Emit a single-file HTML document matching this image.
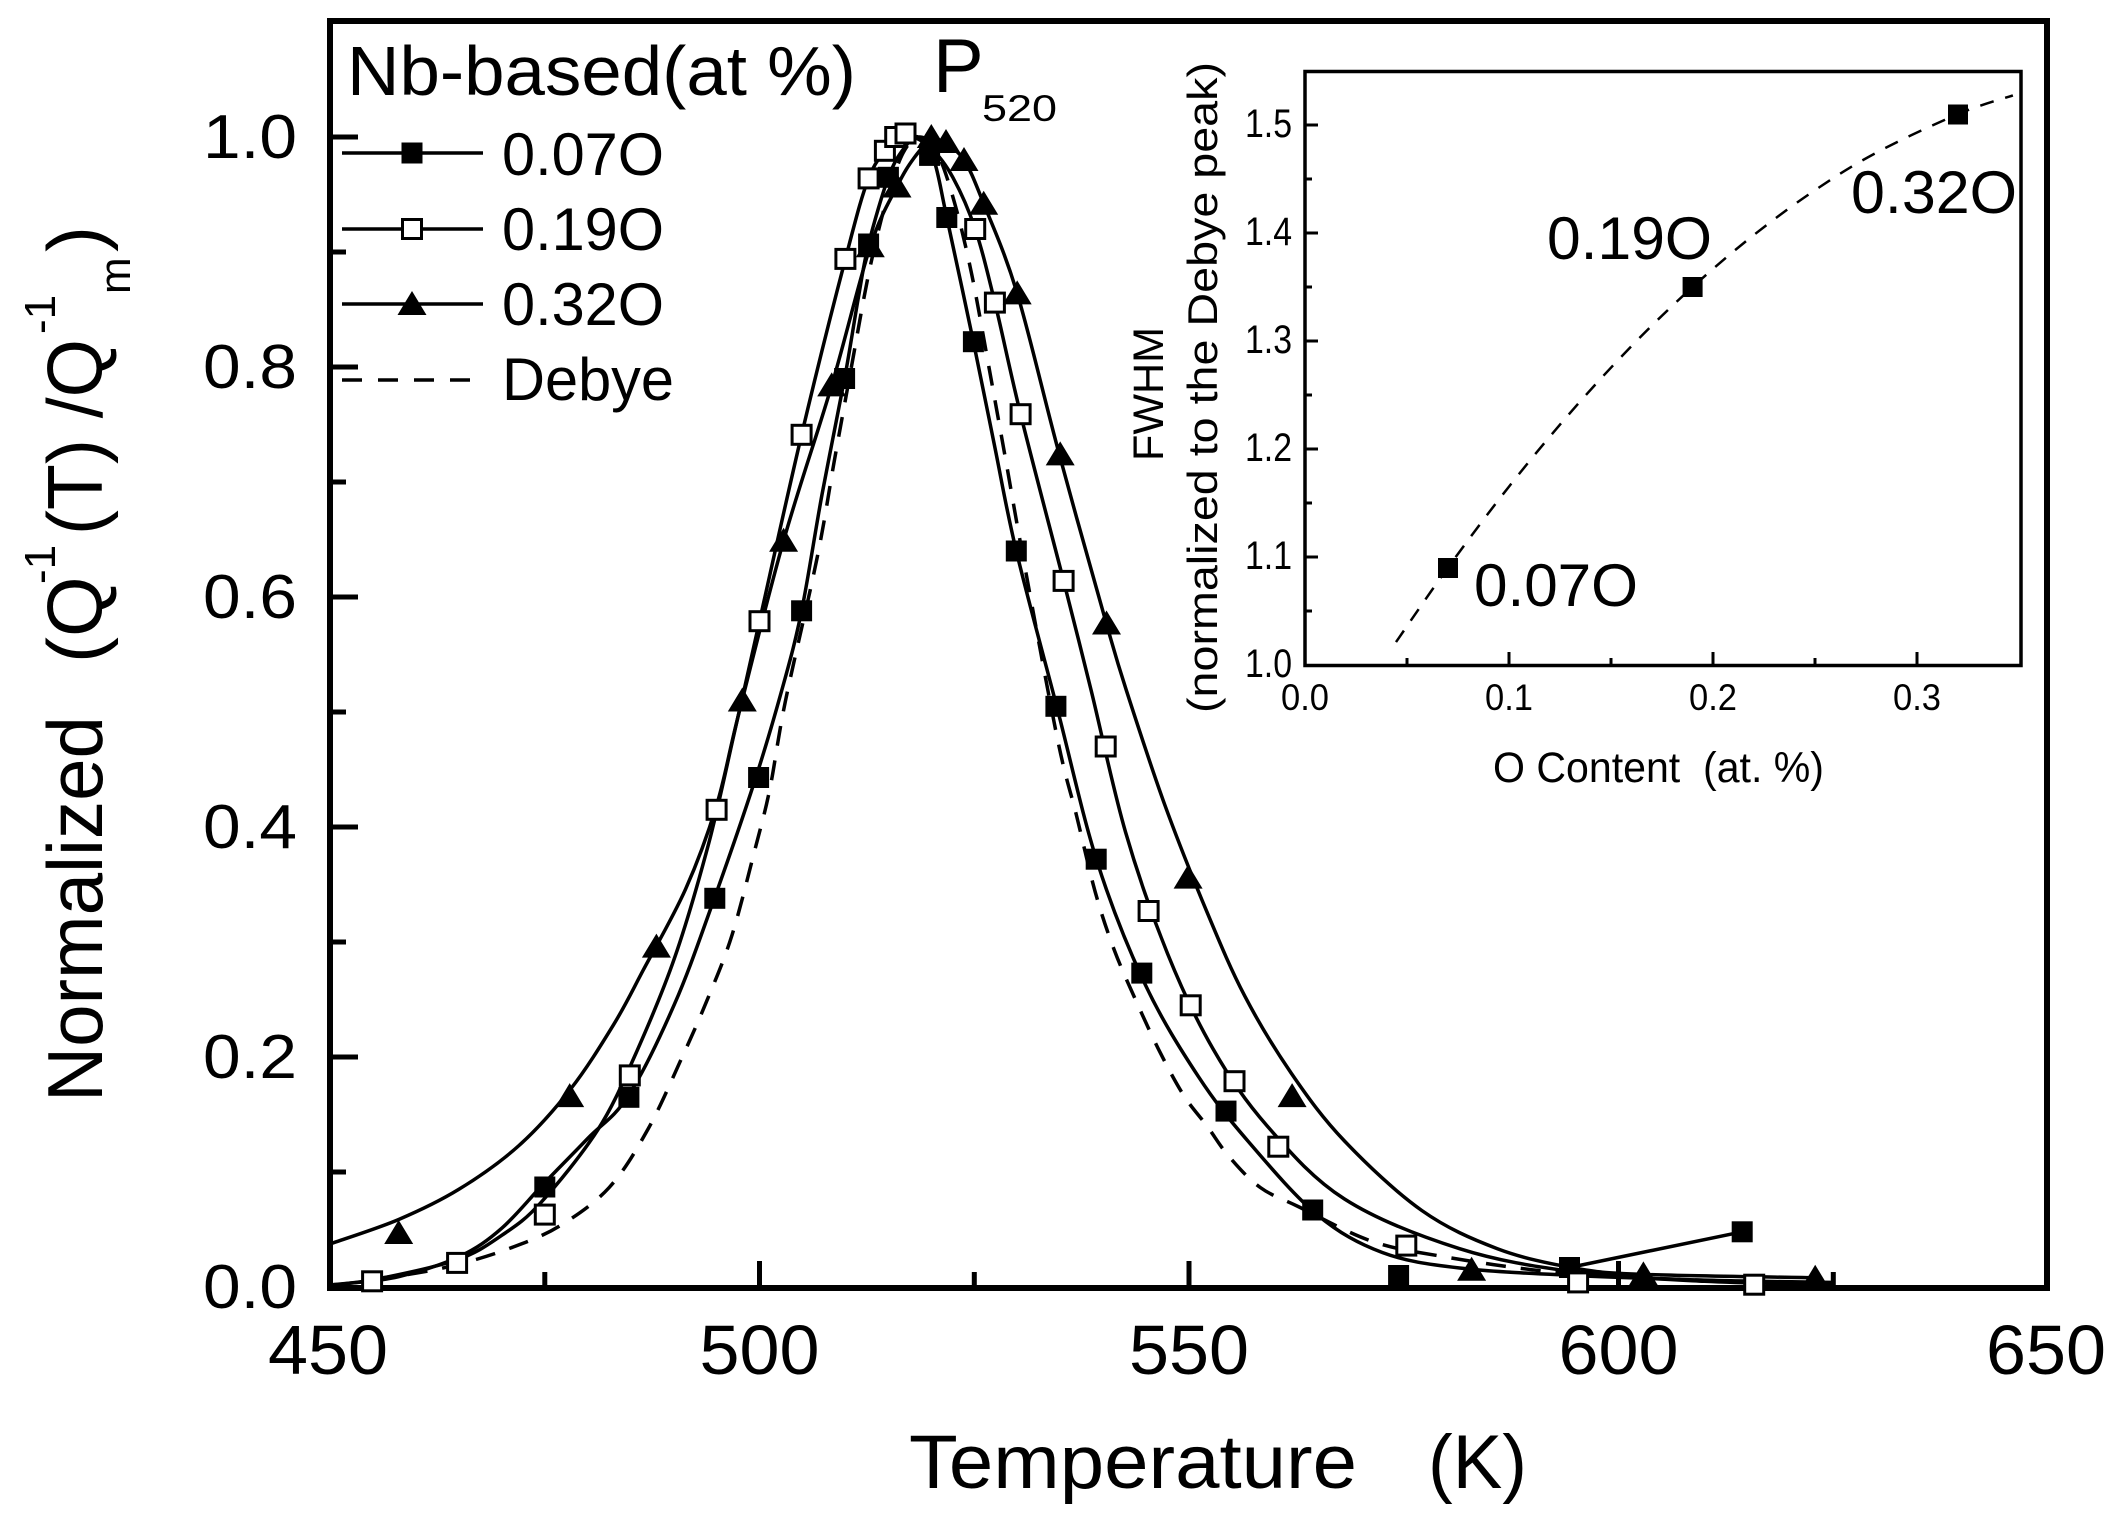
<!DOCTYPE html>
<html><head><meta charset="utf-8"><style>
html,body{margin:0;padding:0;background:#fff;}
svg{display:block;}
text{font-family:"Liberation Sans",Arial,sans-serif;fill:#000;}
</style></head><body>
<svg width="2120" height="1521" viewBox="0 0 2120 1521" xmlns="http://www.w3.org/2000/svg">
<rect width="2120" height="1521" fill="#fff"/>

<!-- ===== MAIN PLOT ===== -->
<g fill="none" stroke="#000" stroke-width="3.5" stroke-linejoin="round" stroke-linecap="round">
<!-- Debye dashed -->
<polyline class="s" stroke-dasharray="20 15" stroke-linecap="butt" points="373,1279 415.9,1273.2 459.7,1264 509.5,1248.4 559.4,1226.1 609.2,1187.5 647.8,1129.5 682.2,1057 708.8,996.1 732,935.1 754.8,850 769.8,789.1 785.3,701.7 817.1,557.9 834.2,461.5 851.4,367 868.6,274.2 885.8,202.6 903,153.1 920.1,137 937.3,153.1 954.5,202.6 971.7,274.2 988.9,367 1006,461.5 1023.2,557.9 1057.6,739.6 1076.5,815.5 1095.4,892.6 1114.3,950.1 1137.5,1004.1 1160.7,1053.6 1183.8,1095.5 1207,1126 1229.4,1157 1260.3,1187.5 1298.1,1206.5 1371.1,1241 1439.8,1256 1532.6,1269.8 1618.5,1276.7 1764.5,1282.4"/>
<!-- 0.07O -->
<polyline class="s" points="333,1285 347.2,1283.5 398.7,1276.7 459.7,1256.4 501.8,1228.2 543.9,1183.5 587.7,1138.5 628.1,1096.1 674.5,1004.1 712.3,904.1 754.3,782.2 781.8,690.2 801.6,610.8 822.2,493.5 844.6,378.5 858.3,298 868.6,244 888.4,177.3 903.8,148.5 918.4,137 933.9,160 946.8,217.5 973.4,341.7 994.9,447.5 1016.3,551 1056.7,706.3 1097.1,861.5 1145.2,984.5 1198.4,1076.6 1248.3,1141.5 1317,1214.6 1382.3,1252.5 1459.6,1268 1573.9,1275.5 1704.4,1280.1 1833.3,1282.4"/>
<polyline points="1569.5,1267.5 1742.2,1231.8"/>
<!-- 0.19O -->
<polyline class="s" points="333,1284.7 375.5,1279.4 456.3,1260 501.8,1235.3 540.5,1203 598,1129.5 635.8,1053.6 674.5,958.1 708.8,843.1 735.4,728.1 759.5,621.2 801.6,434.8 845.4,258.9 868.6,178.4 888.4,148.5 909.8,137 931.3,148.5 952.8,177.3 975.2,229 994.9,302.6 1020.6,414.2 1063.6,580.9 1091.1,690.2 1125.4,831.6 1167.5,953.5 1213.1,1049 1267.2,1126 1344.5,1199 1459.6,1248.7 1573.9,1271.7 1704.4,1281.3 1833.3,1284.7"/>
<!-- 0.32O -->
<polyline class="s" points="332,1243.3 398.7,1219.5 458.9,1189.3 519,1145.5 570.5,1089.2 613.5,1024.8 643.5,969.6 685.6,889.1 716.6,805.2 738.9,713.2 783.6,540.7 831.7,385.4 870.3,246.3 897,186.5 914,158 931.3,140 944.2,142.8 964,160 983.7,203.7 1017.2,293.4 1059.3,454.4 1105.7,621.2 1126.3,690.2 1164.9,805.2 1207,912.1 1244.8,996.1 1291.2,1073.1 1344.5,1141 1421.8,1210.5 1497.4,1248.7 1573.9,1268 1643.4,1274.4 1815.2,1277.8"/>
</g>

<!-- frame -->
<rect x="330" y="21" width="1717" height="1267" fill="none" stroke="#000" stroke-width="6"/>
<!-- ticks -->
<g stroke="#000" stroke-width="5">
<line x1="330" y1="1057" x2="358" y2="1057"/>
<line x1="330" y1="827" x2="358" y2="827"/>
<line x1="330" y1="597" x2="358" y2="597"/>
<line x1="330" y1="367" x2="358" y2="367"/>
<line x1="330" y1="137" x2="358" y2="137"/>
<line x1="330" y1="1172" x2="346" y2="1172"/>
<line x1="330" y1="942" x2="346" y2="942"/>
<line x1="330" y1="712" x2="346" y2="712"/>
<line x1="330" y1="482" x2="346" y2="482"/>
<line x1="330" y1="252" x2="346" y2="252"/>
<line x1="759.5" y1="1288" x2="759.5" y2="1261"/>
<line x1="1189" y1="1288" x2="1189" y2="1261"/>
<line x1="1618.5" y1="1288" x2="1618.5" y2="1261"/>
<line x1="544.8" y1="1288" x2="544.8" y2="1272"/>
<line x1="974.3" y1="1288" x2="974.3" y2="1272"/>
<line x1="1403.8" y1="1288" x2="1403.8" y2="1272"/>
<line x1="1833.3" y1="1288" x2="1833.3" y2="1272"/>
</g>

<!-- filled squares 0.07O -->
<g fill="#000">
<rect x="534.3" y="1176.5" width="21" height="21"/>
<rect x="618.4" y="1086.8" width="21" height="21"/>
<rect x="704.3" y="887.8" width="21" height="21"/>
<rect x="748.1" y="767" width="21" height="21"/>
<rect x="791.1" y="600.3" width="21" height="21"/>
<rect x="834.1" y="368" width="21" height="21"/>
<rect x="858.1" y="233.5" width="21" height="21"/>
<rect x="877.9" y="166.8" width="21" height="21"/>
<rect x="919.1" y="144.9" width="21" height="21"/>
<rect x="936.3" y="207" width="21" height="21"/>
<rect x="962.9" y="331.2" width="21" height="21"/>
<rect x="1005.8" y="540.5" width="21" height="21"/>
<rect x="1045.4" y="695.8" width="21" height="21"/>
<rect x="1085.7" y="848.7" width="21" height="21"/>
<rect x="1131.3" y="962.6" width="21" height="21"/>
<rect x="1215.5" y="1100.6" width="21" height="21"/>
<rect x="1302.2" y="1199.5" width="21" height="21"/>
<rect x="1388.1" y="1265" width="21" height="21"/>
<rect x="1559" y="1257" width="21" height="21"/>
<rect x="1731.7" y="1221.3" width="21" height="21"/>
</g>

<!-- open squares 0.19O -->
<g fill="#fff" stroke="#000" stroke-width="3">
<rect x="362.6" y="1271.8" width="19" height="19"/>
<rect x="447.6" y="1253.4" width="19" height="19"/>
<rect x="535.3" y="1205.1" width="19" height="19"/>
<rect x="620.3" y="1065.9" width="19" height="19"/>
<rect x="707.1" y="800.3" width="19" height="19"/>
<rect x="750" y="611.7" width="19" height="19"/>
<rect x="792.1" y="425.3" width="19" height="19"/>
<rect x="835.9" y="249.4" width="19" height="19"/>
<rect x="859.1" y="168.9" width="19" height="19"/>
<rect x="875.4" y="141.3" width="19" height="19"/>
<rect x="885.7" y="127.5" width="19" height="19"/>
<rect x="896" y="124" width="19" height="19"/>
<rect x="965.7" y="219.5" width="19" height="19"/>
<rect x="985.4" y="293.1" width="19" height="19"/>
<rect x="1011.1" y="404.7" width="19" height="19"/>
<rect x="1054.1" y="571.4" width="19" height="19"/>
<rect x="1096.2" y="737" width="19" height="19"/>
<rect x="1139.1" y="901.5" width="19" height="19"/>
<rect x="1181.2" y="995.8" width="19" height="19"/>
<rect x="1225" y="1071.7" width="19" height="19"/>
<rect x="1268.8" y="1137.2" width="19" height="19"/>
<rect x="1396.8" y="1236.1" width="19" height="19"/>
<rect x="1568.6" y="1272.9" width="19" height="19"/>
<rect x="1744.7" y="1275.2" width="19" height="19"/>
</g>

<!-- triangles 0.32O -->
<g fill="#000">
<polygon points="384.2,1244 413.2,1244 398.7,1220"/>
<polygon points="555.2,1107.1 584.2,1107.1 569.7,1083.1"/>
<polygon points="641.9,957.6 670.9,957.6 656.4,933.6"/>
<polygon points="727.8,711.5 756.8,711.5 742.3,687.5"/>
<polygon points="769.1,551.7 798.1,551.7 783.6,527.7"/>
<polygon points="817.2,396.4 846.2,396.4 831.7,372.4"/>
<polygon points="855.8,257.3 884.8,257.3 870.3,233.3"/>
<polygon points="882.5,197.5 911.5,197.5 897,173.5"/>
<polygon points="916.8,148 945.8,148 931.3,124"/>
<polygon points="931.5,153 960.5,153 946,129"/>
<polygon points="949.5,171 978.5,171 964,147"/>
<polygon points="969.2,214.7 998.2,214.7 983.7,190.7"/>
<polygon points="1002.7,304.4 1031.7,304.4 1017.2,280.4"/>
<polygon points="1045.7,465.4 1074.7,465.4 1060.2,441.4"/>
<polygon points="1092,634.5 1121,634.5 1106.5,610.5"/>
<polygon points="1173.6,888.6 1202.6,888.6 1188.1,864.6"/>
<polygon points="1277.6,1107.1 1306.6,1107.1 1292.1,1083.1"/>
<polygon points="1457.1,1280.8 1486.1,1280.8 1471.6,1256.8"/>
<polygon points="1628.9,1285.4 1657.9,1285.4 1643.4,1261.4"/>
<polygon points="1800.7,1288.8 1829.7,1288.8 1815.2,1264.8"/>
</g>

<!-- main tick labels -->
<g font-size="62" text-anchor="end">
<text x="297" y="1308" textLength="94" lengthAdjust="spacingAndGlyphs">0.0</text>
<text x="297" y="1078" textLength="94" lengthAdjust="spacingAndGlyphs">0.2</text>
<text x="297" y="848" textLength="94" lengthAdjust="spacingAndGlyphs">0.4</text>
<text x="297" y="618" textLength="94" lengthAdjust="spacingAndGlyphs">0.6</text>
<text x="297" y="388" textLength="94" lengthAdjust="spacingAndGlyphs">0.8</text>
<text x="297" y="158" textLength="94" lengthAdjust="spacingAndGlyphs">1.0</text>
</g>
<g font-size="70">
<text x="268" y="1374" textLength="120" lengthAdjust="spacingAndGlyphs">450</text>
<text x="699.5" y="1374" textLength="120" lengthAdjust="spacingAndGlyphs">500</text>
<text x="1129" y="1374" textLength="120" lengthAdjust="spacingAndGlyphs">550</text>
<text x="1558.5" y="1374" textLength="120" lengthAdjust="spacingAndGlyphs">600</text>
<text x="1986" y="1374" textLength="120" lengthAdjust="spacingAndGlyphs">650</text>
</g>

<!-- axis titles -->
<text x="909" y="1488" font-size="76" textLength="448" lengthAdjust="spacingAndGlyphs">Temperature</text>
<text x="1428" y="1488" font-size="76" textLength="99" lengthAdjust="spacingAndGlyphs">(K)</text>

<g transform="translate(102,1102) rotate(-90)">
<text x="0" y="0" font-size="78" textLength="386" lengthAdjust="spacingAndGlyphs">Normalized</text>
<text x="439" y="0" font-size="78">(Q</text>
<text x="518" y="-47" font-size="44">-1</text>
<text x="567" y="0" font-size="78" textLength="196" lengthAdjust="spacingAndGlyphs">(T) /Q</text>
<text x="768" y="-47" font-size="44">-1</text>
<text x="808" y="28" font-size="44">m</text>
<text x="850" y="0" font-size="78">)</text>
</g>

<!-- legend -->
<text x="347" y="95" font-size="70" textLength="509" lengthAdjust="spacingAndGlyphs">Nb-based(at %)</text>
<text x="933" y="92" font-size="76">P</text>
<text x="982" y="121" font-size="37" textLength="75" lengthAdjust="spacingAndGlyphs">520</text>

<g stroke="#000" stroke-width="3.5">
<line x1="342" y1="153" x2="483" y2="153"/>
<line x1="342" y1="229" x2="483" y2="229"/>
<line x1="342" y1="304" x2="483" y2="304"/>
<line x1="342" y1="380" x2="483" y2="380" stroke-dasharray="20 16"/>
</g>
<rect x="401.5" y="142.5" width="21" height="21" fill="#000"/>
<rect x="402.5" y="219.5" width="19" height="19" fill="#fff" stroke="#000" stroke-width="3"/>
<polygon points="397.5,315 426.5,315 412,291" fill="#000"/>
<g font-size="60">
<text x="502" y="175" textLength="162" lengthAdjust="spacingAndGlyphs">0.07O</text>
<text x="502" y="250" textLength="162" lengthAdjust="spacingAndGlyphs">0.19O</text>
<text x="502" y="325" textLength="162" lengthAdjust="spacingAndGlyphs">0.32O</text>
<text x="502" y="400" textLength="172" lengthAdjust="spacingAndGlyphs">Debye</text>
</g>

<!-- ===== INSET ===== -->
<rect x="1305" y="71.5" width="716" height="594" fill="#fff" stroke="#000" stroke-width="3.5"/>
<g stroke="#000" stroke-width="3">
<line x1="1305" y1="557" x2="1318" y2="557"/>
<line x1="1305" y1="449" x2="1318" y2="449"/>
<line x1="1305" y1="341" x2="1318" y2="341"/>
<line x1="1305" y1="233" x2="1318" y2="233"/>
<line x1="1305" y1="125" x2="1318" y2="125"/>
<line x1="1305" y1="611" x2="1312" y2="611"/>
<line x1="1305" y1="503" x2="1312" y2="503"/>
<line x1="1305" y1="395" x2="1312" y2="395"/>
<line x1="1305" y1="287" x2="1312" y2="287"/>
<line x1="1305" y1="179" x2="1312" y2="179"/>
<line x1="1509" y1="665" x2="1509" y2="652"/>
<line x1="1713" y1="665" x2="1713" y2="652"/>
<line x1="1917" y1="665" x2="1917" y2="652"/>
<line x1="1407" y1="665" x2="1407" y2="658"/>
<line x1="1611" y1="665" x2="1611" y2="658"/>
<line x1="1815" y1="665" x2="1815" y2="658"/>
</g>
<polyline class="s" fill="none" stroke="#000" stroke-width="2.5" stroke-dasharray="14 12" points="1396,642.1 1447.8,567.8 1509,486.6 1570.2,412.8 1631.4,346.2 1692.6,287 1753.8,235 1815,190.2 1876.2,152.8 1957.8,114.2 2012.9,95.4"/>
<rect x="1438" y="558" width="20" height="20" fill="#000"/>
<rect x="1682.6" y="277" width="20" height="20" fill="#000"/>
<rect x="1948" y="104.5" width="20" height="20" fill="#000"/>

<g font-size="40" text-anchor="end">
<text x="1292" y="677" textLength="47" lengthAdjust="spacingAndGlyphs">1.0</text>
<text x="1292" y="569" textLength="47" lengthAdjust="spacingAndGlyphs">1.1</text>
<text x="1292" y="461" textLength="47" lengthAdjust="spacingAndGlyphs">1.2</text>
<text x="1292" y="353" textLength="47" lengthAdjust="spacingAndGlyphs">1.3</text>
<text x="1292" y="245" textLength="47" lengthAdjust="spacingAndGlyphs">1.4</text>
<text x="1292" y="137" textLength="47" lengthAdjust="spacingAndGlyphs">1.5</text>
</g>
<g font-size="37">
<text x="1281" y="710" textLength="48" lengthAdjust="spacingAndGlyphs">0.0</text>
<text x="1485" y="710" textLength="48" lengthAdjust="spacingAndGlyphs">0.1</text>
<text x="1689" y="710" textLength="48" lengthAdjust="spacingAndGlyphs">0.2</text>
<text x="1893" y="710" textLength="48" lengthAdjust="spacingAndGlyphs">0.3</text>
</g>
<text x="1493" y="782" font-size="43" textLength="331" lengthAdjust="spacingAndGlyphs">O Content&#160; (at. %)</text>
<g transform="translate(1163,461) rotate(-90)">
<text x="0" y="0" font-size="43" textLength="134" lengthAdjust="spacingAndGlyphs">FWHM</text>
</g>
<g transform="translate(1217,713) rotate(-90)">
<text x="0" y="0" font-size="42" textLength="651" lengthAdjust="spacingAndGlyphs">(normalized to the Debye peak)</text>
</g>
<g font-size="60">
<text x="1474" y="606" textLength="164" lengthAdjust="spacingAndGlyphs">0.07O</text>
<text x="1547" y="259" textLength="165" lengthAdjust="spacingAndGlyphs">0.19O</text>
<text x="1851" y="213" textLength="166" lengthAdjust="spacingAndGlyphs">0.32O</text>
</g>
</svg>
<script>
(function(){
var list=document.querySelectorAll('polyline.s');
for(var k=0;k<list.length;k++){
 var pl=list[k];
 var raw=pl.getAttribute('points').trim().split(/\s+/);
 var pts=[];
 for(var i=0;i<raw.length;i++){var a=raw[i].split(',');pts.push([parseFloat(a[0]),parseFloat(a[1])]);}
 var d='M'+pts[0][0]+','+pts[0][1];
 for(var i=0;i<pts.length-1;i++){
  var p0=pts[i>0?i-1:i],p1=pts[i],p2=pts[i+1],p3=pts[i+2<pts.length?i+2:i+1];
  var c1x=p1[0]+(p2[0]-p0[0])/6,c1y=p1[1]+(p2[1]-p0[1])/6;
  var c2x=p2[0]-(p3[0]-p1[0])/6,c2y=p2[1]-(p3[1]-p1[1])/6;
  d+=' C'+c1x.toFixed(1)+','+c1y.toFixed(1)+' '+c2x.toFixed(1)+','+c2y.toFixed(1)+' '+p2[0]+','+p2[1];
 }
 var p=document.createElementNS('http://www.w3.org/2000/svg','path');
 for(var j=0;j<pl.attributes.length;j++){var at=pl.attributes[j];if(at.name!=='points'&&at.name!=='class')p.setAttribute(at.name,at.value);}
 p.setAttribute('d',d);
 pl.parentNode.replaceChild(p,pl);
}
})();
</script>
</body></html>
